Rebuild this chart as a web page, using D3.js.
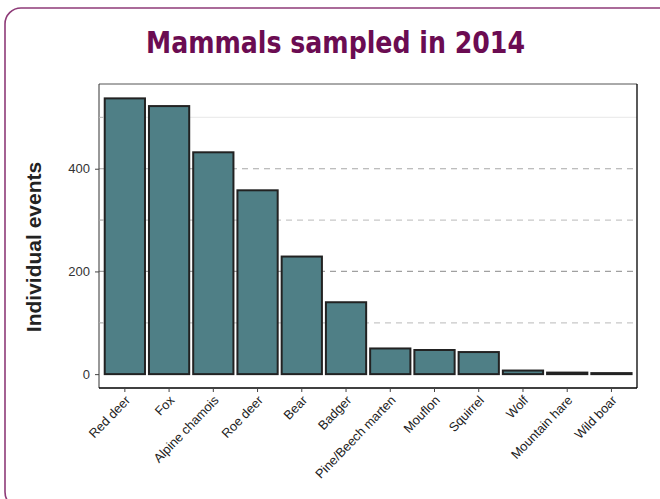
<!DOCTYPE html>
<html><head><meta charset="utf-8">
<script src="https://cdn.jsdelivr.net/npm/d3@7"></script>
<style>html,body{margin:0;padding:0;background:#fff;}svg{display:block;}</style>
</head><body>
<svg id="chart" width="660" height="499"></svg>
<script>
const categories = ["Red deer","Fox","Alpine chamois","Roe deer","Bear","Badger","Pine/Beech marten","Mouflon","Squirrel","Wolf","Mountain hare","Wild boar"];
const values = [537, 522, 432, 358, 229, 140, 50, 47, 43, 7, 3, 2];
const majorTicks = [0, 200, 400];
const minorTicks = [100, 300, 500];
const titleText = "Mammals sampled in 2014";
const yLabel = "Individual events";

const svg = d3.select("#chart");
// outer frame
svg.append("rect").attr("x",5).attr("y",8).attr("width",670).attr("height",500)
  .attr("rx",16).attr("fill","none").attr("stroke","#8e3b78").attr("stroke-width",1.6);

svg.append("text").attr("x",146).attr("y",53)
  .attr("font-family","'DejaVu Sans Condensed','DejaVu Sans',sans-serif")
  .attr("font-weight","bold").attr("font-size",30).attr("fill","#6b0c52")
  .attr("textLength",379).attr("lengthAdjust","spacingAndGlyphs").text(titleText);

const L=99, T=84, R=637, B=388;
const x = d3.scaleBand().domain(categories).range([100.3,636]).paddingInner(0.09).paddingOuter(0.1);
const y = d3.scaleLinear().domain([-27,565]).range([B,T]);

const g = svg.append("g");
// gridlines
const grid = [
  {v:100, c:"#c8c8c8", d:"6,5"},
  {v:200, c:"#a0a0a0", d:"6,5"},
  {v:300, c:"#c8c8c8", d:"6,5"},
  {v:400, c:"#a8a8a8", d:"6,5"},
  {v:500, c:"#ececec", d:null}
];
grid.forEach(gl=>{
  g.append("line").attr("x1",L).attr("x2",R).attr("y1",y(gl.v)).attr("y2",y(gl.v))
    .attr("stroke",gl.c).attr("stroke-width",1.2).attr("stroke-dasharray",gl.d);
});

g.selectAll("rect.bar").data(values).join("rect").attr("class","bar")
  .attr("x",(d,i)=>x(categories[i])).attr("width",x.bandwidth())
  .attr("y",d=>y(d)).attr("height",d=>y(0)-y(d))
  .attr("fill","#4f7f86").attr("stroke","#222").attr("stroke-width",2);

// frame
g.append("line").attr("x1",L).attr("x2",R).attr("y1",T).attr("y2",T).attr("stroke","#555").attr("stroke-width",1);
g.append("line").attr("x1",L).attr("x2",L).attr("y1",T).attr("y2",B).attr("stroke","#333").attr("stroke-width",1);
g.append("line").attr("x1",R).attr("x2",R).attr("y1",T).attr("y2",B).attr("stroke","#000").attr("stroke-width",1.3);
g.append("line").attr("x1",L).attr("x2",R).attr("y1",B).attr("y2",B).attr("stroke","#000").attr("stroke-width",1.3);

// y axis
const yAxis = d3.axisLeft(y).tickValues(majorTicks).tickSize(4).tickPadding(5);
const ya = svg.append("g").attr("transform",`translate(${L},0)`).call(yAxis);
ya.select(".domain").remove();
ya.selectAll("line").attr("stroke","#444");
ya.selectAll("text").attr("font-family","'Liberation Sans',Arial,sans-serif").attr("font-size",13).attr("fill","#333");
// minor ticks
svg.selectAll("line.minor").data(minorTicks).join("line").attr("class","minor")
  .attr("x1",L).attr("x2",L+5).attr("y1",d=>y(d)).attr("y2",d=>y(d)).attr("stroke","#bbb");

// x axis
const xAxis = d3.axisBottom(x).tickSize(4).tickPadding(3);
const xa = svg.append("g").attr("transform",`translate(0,${B})`).call(xAxis);
xa.select(".domain").remove();
xa.selectAll("line").attr("stroke","#444");
xa.selectAll("text").attr("font-family","'Liberation Sans',Arial,sans-serif").attr("font-size",12.8).attr("fill","#222")
  .attr("text-anchor","end").attr("dx","-0.4em").attr("dy","0.5em").attr("transform","rotate(-46)");

svg.append("text").attr("transform","translate(41,247) rotate(-90)").attr("text-anchor","middle")
  .attr("font-family","'Liberation Sans',Arial,sans-serif").attr("font-weight","bold").attr("font-size",21)
  .attr("fill","#222").text(yLabel);
</script>
</body></html>
